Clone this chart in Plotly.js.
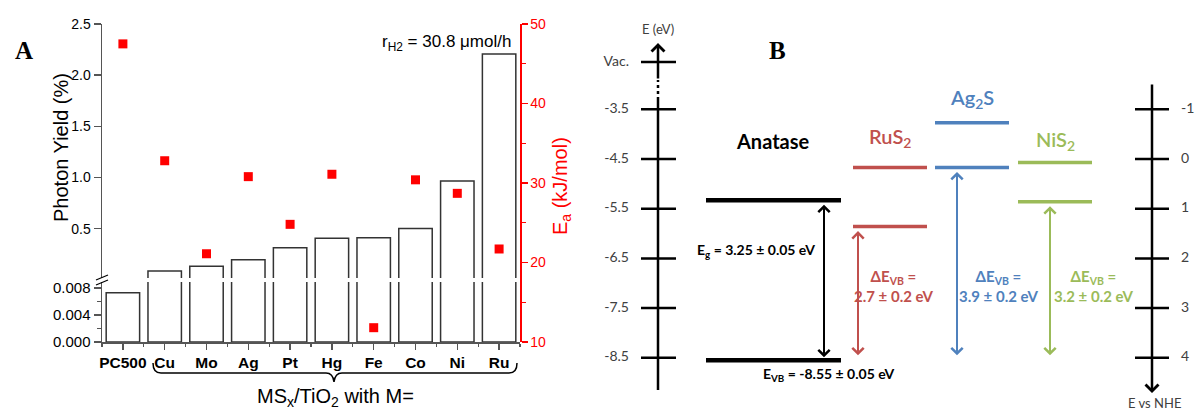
<!DOCTYPE html>
<html><head><meta charset="utf-8">
<script src="https://cdn.plot.ly/plotly-3.0.1.min.js"></script>
<style>html,body{margin:0;padding:0;background:#fff}#chart{width:1196px;height:410px}</style>
</head><body><div id="chart"></div>
<script>
// ---------- Panel A data ----------
const categories = ['PC500','Cu','Mo','Ag','Pt','Hg','Fe','Co','Ni','Ru'];
const photonYield = [0.0073, 0.088, 0.134, 0.198, 0.315, 0.407, 0.413, 0.501, 0.967, 2.207];
const activationEnergy = [47.5, 32.8, 21.1, 30.8, 24.8, 31.1, 11.8, 30.4, 28.7, 21.7];
const upperTicks = [0.5, 1.0, 1.5, 2.0, 2.5];
const lowerTicks = [0, 0.004, 0.008];
const lowerMinor = [0.002, 0.006];
const eaTicks = [10, 20, 30, 40, 50];
const eaMinor = [15, 25, 35, 45];

// ---------- Panel B data ----------
const materials = ['Anatase', 'RuS<sub>2</sub>', 'Ag<sub>2</sub>S', 'NiS<sub>2</sub>'];
const cbLevels = [-5.33, -4.67, -3.77, -4.57];
const vbLevels = [-8.55, -5.86, -4.67, -5.36];
const deltaEvb = ['', '2.7 ± 0.2 eV', '3.9 ± 0.2 eV', '3.2 ± 0.2 eV'];
const bandGapLabel = '3.25 ± 0.05 eV';
const vbLabel = '-8.55 ± 0.05 eV';
const eTicks = [-3.5, -4.5, -5.5, -6.5, -7.5, -8.5];
const eTickLabels = ['-3.5', '-4.5', '-5.5', '-6.5', '-7.5', '-8.5'];
const nheTicks = [-1, 0, 1, 2, 3, 4];
const nheTickLabels = ['-1', '0', '1', '2', '3', '4'];

// ---------- layout helpers (positions / styles) ----------
const W = 1196, H = 410;
const px = x => x / W, py = y => 1 - y / H;
const eAt = y => -3.5 - (y - 109.3) / 49.7;       // panel B pixel row -> energy (eV)
const nheToE = n => -4.5 - n;
const idx = categories.map((c, i) => i);
const bounds = [-1].concat(idx).map(i => i + 0.5);
const fA = 'Liberation Sans, Arial, sans-serif';
const fB = 'Lato, Noto Sans, sans-serif';
const axisGray = '#555555';

const levelSpanB = [[706, 841], [853, 927], [935, 1009], [1018, 1092]];
const levelWidthB = [4.5, 3.5, 3.5, 3.5];
const colorsB = ['#000000', '#C0504D', '#4F81BD', '#9BBB59'];
const arrowXB = [824, 858, 957, 1050];
const nameLabelPos = [[773, 141], [890, 137], [972, 98], [1055, 140]];
const dLabelPos = [null, [893, 286], [998, 286], [1093, 286]];

const traces = [];
traces.push({type: 'bar', x: idx, y: photonYield, xaxis: 'x', yaxis: 'y', width: 0.8,
  marker: {color: '#ffffff', line: {color: '#333333', width: 1.5}}, hoverinfo: 'skip'});
traces.push({type: 'bar', x: idx, y: photonYield, xaxis: 'x', yaxis: 'y2', width: 0.8,
  marker: {color: '#ffffff', line: {color: '#333333', width: 1.5}}, hoverinfo: 'skip'});
traces.push({type: 'scatter', mode: 'markers', x: idx, y: activationEnergy, xaxis: 'x', yaxis: 'y3',
  marker: {symbol: 'square', size: 9, color: '#FF0000'}});

materials.forEach((m, i) => {
  const [x0, x1] = levelSpanB[i];
  traces.push({type: 'scatter', mode: 'lines', xaxis: 'x2', yaxis: 'y4',
    x: [x0, x1, null, x0, x1], y: [cbLevels[i], cbLevels[i], null, vbLevels[i], vbLevels[i]],
    line: {color: colorsB[i], width: levelWidthB[i]}, hoverinfo: 'skip'});
});
const tickXs = [], tickYs = [];
const vacE = eAt(62);
[vacE].concat(eTicks).forEach(t => { tickXs.push(641, 676, null); tickYs.push(t, t, null); });
traces.push({type: 'scatter', mode: 'lines', xaxis: 'x2', yaxis: 'y4', x: tickXs, y: tickYs,
  line: {color: '#000', width: 2.5}, hoverinfo: 'skip'});
traces.push({type: 'scatter', mode: 'lines', xaxis: 'x2', yaxis: 'y4', x: [658, 658], y: [eAt(390), eAt(100)],
  line: {color: '#000', width: 2.5}, hoverinfo: 'skip'});
traces.push({type: 'scatter', mode: 'lines', xaxis: 'x2', yaxis: 'y4', x: [658, 658], y: [eAt(100), eAt(80)],
  line: {color: '#000', width: 2.5, dash: 'dot'}, hoverinfo: 'skip'});
traces.push({type: 'scatter', mode: 'text', xaxis: 'x2', yaxis: 'y4',
  x: [629].concat(eTicks.map(() => 629)), y: [vacE].concat(eTicks),
  text: ['Vac.'].concat(eTickLabels), textposition: 'middle left',
  textfont: {family: fB, size: 14, color: '#404040'}, hoverinfo: 'skip'});
const nX = [], nY = [];
nheTicks.forEach(n => { nX.push(1135, 1169, null); nY.push(nheToE(n), nheToE(n), null); });
traces.push({type: 'scatter', mode: 'lines', xaxis: 'x2', yaxis: 'y4', x: nX, y: nY,
  line: {color: '#000', width: 2.5}, hoverinfo: 'skip'});
traces.push({type: 'scatter', mode: 'text', xaxis: 'x2', yaxis: 'y4',
  x: nheTicks.map(() => 1181), y: nheTicks.map(nheToE), text: nheTickLabels, textposition: 'middle right',
  textfont: {family: fB, size: 14, color: '#404040'}, hoverinfo: 'skip'});

const annotations = [];
const pa = (x, y, text, font, extra) => Object.assign({xref: 'paper', yref: 'paper', x: px(x), y: py(y),
  xanchor: 'center', yanchor: 'middle', text: text, showarrow: false, font: font}, extra || {});
annotations.push(pa(24, 50, '<b>A</b>', {family: 'Liberation Serif, Times New Roman, serif', size: 25, color: '#000'}));
annotations.push(pa(61, 148, 'Photon Yield (%)', {family: fA, size: 20, color: '#000'}, {textangle: -90}));
annotations.push(pa(562, 186, 'E<sub>a</sub> (kJ/mol)', {family: fA, size: 20, color: '#FF0000'}, {textangle: -90}));
annotations.push(pa(513, 43, 'r<sub>H2</sub> = 30.8 μmol/h', {family: fA, size: 17, color: '#000'}, {xanchor: 'right'}));
annotations.push(pa(335, 397, 'MS<sub>x</sub>/TiO<sub>2</sub> with M=', {family: fA, size: 20, color: '#000'}));
annotations.push(pa(777, 50, '<b>B</b>', {family: 'Liberation Serif, Times New Roman, serif', size: 25, color: '#000'}));

const da = (x, y, text, font) => ({xref: 'x2', yref: 'y4', x: x, y: y, xanchor: 'center', yanchor: 'middle',
  text: text, showarrow: false, font: font});
annotations.push(da(658, eAt(29), 'E (eV)', {family: fB, size: 13, color: '#404040'}));
annotations.push(da(1154, eAt(403), 'E vs NHE', {family: fB, size: 13, color: '#404040'}));
materials.forEach((m, i) => {
  annotations.push(da(nameLabelPos[i][0], eAt(nameLabelPos[i][1]), i === 0 ? '<b>' + m + '</b>' : m,
    {family: fB, size: 20, color: colorsB[i], weight: i === 0 ? 700 : 600}));
  if (i > 0) {
    annotations.push(da(dLabelPos[i][0], eAt(dLabelPos[i][1]), '<b>ΔE<sub>VB</sub> =<br>' + deltaEvb[i] + '</b>',
      {family: fB, size: 15, color: colorsB[i]}));
  }
});
annotations.push(da(756, eAt(250), '<b>E<sub>g</sub> = ' + bandGapLabel + '</b>', {family: fB, size: 14, color: '#000'}));
annotations.push(da(829, eAt(374), '<b>E<sub>VB</sub> = ' + vbLabel + '</b>', {family: fB, size: 14, color: '#000'}));

const arrowBase = {xref: 'x2', yref: 'y4', axref: 'x2', ayref: 'y4', text: '', showarrow: true,
  arrowhead: 4, startarrowhead: 4, arrowsize: 1.1, startarrowsize: 1.1, arrowwidth: 2,
  arrowside: 'end+start', standoff: 3, startstandoff: 3};
annotations.push(Object.assign({}, arrowBase, {x: arrowXB[0], y: vbLevels[0], ax: arrowXB[0], ay: cbLevels[0], arrowcolor: colorsB[0]}));
for (let i = 1; i < materials.length; i++) {
  annotations.push(Object.assign({}, arrowBase, {x: arrowXB[i], y: vbLevels[0], ax: arrowXB[i], ay: vbLevels[i], arrowcolor: colorsB[i], standoff: 5}));
}
annotations.push({xref: 'x2', yref: 'y4', axref: 'x2', ayref: 'y4', x: 658, y: eAt(43), ax: 658, ay: eAt(80),
  text: '', showarrow: true, arrowhead: 4, arrowsize: 1, arrowwidth: 2.5, arrowcolor: '#000'});
annotations.push({xref: 'x2', yref: 'y4', axref: 'x2', ayref: 'y4', x: 1152, y: eAt(393), ax: 1152, ay: eAt(83),
  text: '', showarrow: true, arrowhead: 4, arrowsize: 1, arrowwidth: 2.5, arrowcolor: '#000'});

const P = (x, y) => px(x) + ',' + py(y);
const shapes = [
  {type: 'path', xref: 'paper', yref: 'paper', line: {color: '#000', width: 1.5},
   path: 'M' + P(153, 363) + ' Q' + P(153, 373) + ' ' + P(161, 373) + ' L' + P(326, 373) +
         ' Q' + P(333, 373) + ' ' + P(334, 382) + ' Q' + P(335, 373) + ' ' + P(342, 373) +
         ' L' + P(509, 373) + ' Q' + P(517, 373) + ' ' + P(517, 363)},
  {type: 'line', xref: 'paper', yref: 'paper', x0: px(96), y0: py(280), x1: px(108), y1: py(275), line: {color: '#000', width: 1.2}},
  {type: 'line', xref: 'paper', yref: 'paper', x0: px(96), y0: py(285), x1: px(108), y1: py(280), line: {color: '#000', width: 1.2}}
];

const layout = {
  width: W, height: H, margin: {l: 0, r: 0, t: 0, b: 0},
  paper_bgcolor: '#ffffff', plot_bgcolor: 'rgba(0,0,0,0)', showlegend: false,
  xaxis: {domain: [px(102), px(520)], range: [-0.5, 9.5], anchor: 'y2', tickmode: 'array', tickvals: idx,
    ticktext: categories.map(c => '<b>' + c + '</b>'), ticks: 'outside', ticklen: 6, tickwidth: 1.5, tickcolor: axisGray,
    showline: true, linecolor: axisGray, linewidth: 1.5, showgrid: false, zeroline: false,
    tickfont: {family: fA, size: 15.5, color: '#000'},
    minor: {tickmode: 'array', tickvals: bounds, ticks: 'outside', ticklen: 3, tickwidth: 1.2, tickcolor: axisGray, showgrid: false}},
  yaxis: {domain: [py(278), py(24)], range: [0.0186, 2.5], anchor: 'x', tickmode: 'array', tickvals: upperTicks,
    ticktext: upperTicks.map(v => v.toFixed(1)), ticks: 'outside', ticklen: 7, tickwidth: 1.5, tickcolor: axisGray,
    showline: true, linecolor: axisGray, linewidth: 1.5, showgrid: false, zeroline: false,
    tickfont: {family: fA, size: 14, color: '#000'}},
  yaxis2: {domain: [py(342), py(282)], range: [0, 0.0089], anchor: 'x', tickmode: 'array', tickvals: lowerTicks,
    ticktext: lowerTicks.map(v => v.toFixed(3)), ticks: 'outside', ticklen: 7, tickwidth: 1.5, tickcolor: axisGray,
    showline: true, linecolor: axisGray, linewidth: 1.5, showgrid: false, zeroline: false,
    tickfont: {family: fA, size: 15, color: '#000'},
    minor: {tickmode: 'array', tickvals: lowerMinor, ticks: 'outside', ticklen: 4, tickwidth: 1.2, tickcolor: axisGray, showgrid: false}},
  yaxis3: {domain: [py(342), py(24)], range: [10, 50], anchor: 'x', side: 'right', tickmode: 'array', tickvals: eaTicks,
    ticks: 'outside', ticklen: 6, tickwidth: 1.5, tickcolor: '#FF0000',
    showline: true, linecolor: '#FF0000', linewidth: 1.5, showgrid: false, zeroline: false,
    tickfont: {family: fA, size: 14, color: '#FF0000'},
    minor: {tickmode: 'array', tickvals: eaMinor, ticks: 'outside', ticklen: 4, tickwidth: 1.2, tickcolor: '#FF0000', showgrid: false}},
  xaxis2: {domain: [0, 1], range: [0, W], anchor: 'y4', visible: false, fixedrange: true},
  yaxis4: {domain: [0, 1], range: [eAt(H), eAt(0)], anchor: 'x2', visible: false, fixedrange: true},
  annotations: annotations, shapes: shapes
};

Plotly.newPlot('chart', traces, layout, {displayModeBar: false, staticPlot: true});
</script></body></html>
